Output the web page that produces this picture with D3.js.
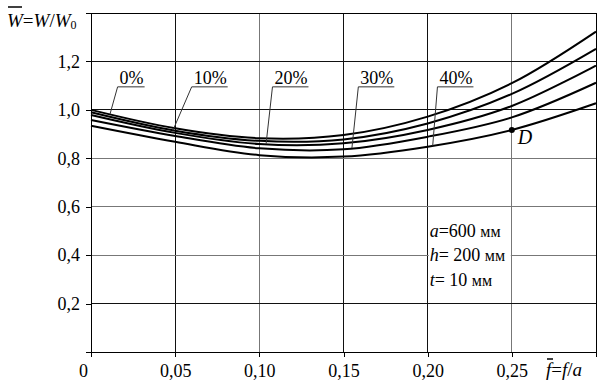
<!DOCTYPE html>
<html>
<head>
<meta charset="utf-8">
<script src="https://cdn.jsdelivr.net/npm/d3@7"></script>
<style>
  body { margin: 0; background: #fff; }
</style>
</head>
<body>
<svg id="chart" width="607" height="381"></svg>
<script>
// relative deflection f/a
const fVals = [0, 0.05, 0.10, 0.15, 0.20, 0.25, 0.30];
const seriesNames = ['0%', '10%', '20%', '30%', '40%'];
const w0 = [1.000, 0.924, 0.883, 0.896, 0.972, 1.110, 1.323];
const w10 = [0.990, 0.914, 0.872, 0.878, 0.944, 1.066, 1.252];
const w20 = [0.979, 0.905, 0.859, 0.862, 0.917, 1.016, 1.183];
const w30 = [0.958, 0.892, 0.841, 0.837, 0.889, 0.969, 1.112];
const w40 = [0.934, 0.868, 0.813, 0.807, 0.848, 0.917, 1.027];
const seriesValues = [w0, w10, w20, w30, w40];

// where each label sits (text start) and where its leader touches the curve
const labelF = [0.017, 0.061, 0.109, 0.160, 0.207];
const leaderF = [0.0113, 0.0487, 0.104, 0.155, 0.203];
const labelW = 1.107;
const underlineW = 1.095;

const xTicks = [0, 0.05, 0.10, 0.15, 0.20, 0.25, 0.30];
const xTickLabels = ['0', '0,05', '0,10', '0,15', '0,20', '0,25', ''];
const yTicks = [0, 0.2, 0.4, 0.6, 0.8, 1.0, 1.2, 1.4];
const yTickLabels = ['', '0,2', '0,4', '0,6', '0,8', '1,0', '1,2', ''];

const pointD = { f: 0.25, w: 0.917, name: 'D' };
const params = [
  { v: 'a', rest: '=600 ', unit: 'мм' },
  { v: 'h', rest: '= 200 ', unit: 'мм' },
  { v: 't', rest: '= 10 ', unit: 'мм' }
];

const FONT = '"Liberation Serif"';
const svg = d3.select('#chart');
const mLeft = 91, mRight = 596, mTop = 13, mBottom = 352;

const x = d3.scaleLinear().domain([0, 0.30]).range([mLeft, mRight]);
const y = d3.scaleLinear().domain([0, 1.4]).range([mBottom, mTop]);

// grid
const greyX = [0.10, 0.25];
const greyY = [0.4, 0.6, 0.8];
svg.append('g')
  .selectAll('line')
  .data(xTicks.slice(1, -1))
  .join('line')
  .attr('x1', d => x(d)).attr('x2', d => x(d))
  .attr('y1', mTop).attr('y2', mBottom)
  .attr('stroke', d => greyX.includes(d) ? '#777' : '#111')
  .attr('stroke-width', 1)
  .attr('shape-rendering', 'crispEdges');
svg.append('g')
  .selectAll('line')
  .data(yTicks.slice(1, -1))
  .join('line')
  .attr('x1', mLeft).attr('x2', mRight)
  .attr('y1', d => y(d)).attr('y2', d => y(d))
  .attr('stroke', d => greyY.some(g => Math.abs(g - d) < 1e-9) ? '#777' : '#111')
  .attr('stroke-width', 1)
  .attr('shape-rendering', 'crispEdges');

// frame as four lines
const frame = [
  [mLeft, mTop, mRight, mTop],
  [mRight, mTop, mRight, mBottom],
  [mLeft, mBottom, mRight, mBottom],
  [mLeft, mTop, mLeft, mBottom]
];
svg.append('g')
  .selectAll('line')
  .data(frame)
  .join('line')
  .attr('x1', d => d[0]).attr('y1', d => d[1])
  .attr('x2', d => d[2]).attr('y2', d => d[3])
  .attr('stroke', '#000').attr('stroke-width', 1)
  .attr('shape-rendering', 'crispEdges');

// axes
const xAxis = svg.append('g')
  .attr('transform', `translate(0,${mBottom})`)
  .call(d3.axisBottom(x).tickValues(xTicks).tickSize(5).tickPadding(7)
    .tickFormat((d, i) => xTickLabels[i]));
const yAxis = svg.append('g')
  .attr('transform', `translate(${mLeft},0)`)
  .call(d3.axisLeft(y).tickValues(yTicks).tickSize(5).tickPadding(6)
    .tickFormat((d, i) => yTickLabels[i]));
[xAxis, yAxis].forEach(a => {
  a.attr('font-family', FONT).attr('font-size', 18);
  a.select('.domain').remove();
  a.selectAll('line').attr('stroke', '#000').attr('shape-rendering', 'crispEdges');
  a.selectAll('text')
    .attr('font-family', FONT)
    .attr('font-size', 18)
    .attr('fill', '#000');
});
xAxis.selectAll('text').filter(d => d === 0).attr('dx', -8);

// parameter box (white background hides the grid)
const box = svg.append('g');
box.append('rect')
  .attr('x', x(0.20) + 1).attr('y', y(0.56))
  .attr('width', x(0.25) - x(0.20) - 2).attr('height', y(0.24) - y(0.56))
  .attr('fill', '#fff');
params.forEach((p, i) => {
  const t = box.append('text')
    .attr('x', x(0.20) + 2)
    .attr('y', y(0.476) + i * 24.5)
    .attr('font-family', FONT)
    .attr('font-size', 18)
    .attr('fill', '#000');
  t.append('tspan').attr('font-style', 'italic').text(p.v);
  t.append('tspan').text(p.rest);
  t.append('tspan').attr('font-size', 16).text(p.unit);
});

// curves
const line = d3.line()
  .x((d, i) => x(fVals[i]))
  .y(d => y(d))
  .curve(d3.curveCatmullRom.alpha(0.5));

seriesValues.forEach(vals => {
  svg.append('path')
    .datum(vals)
    .attr('d', line)
    .attr('fill', 'none')
    .attr('stroke', '#000')
    .attr('stroke-width', 2)
    .attr('stroke-linejoin', 'round');
});

// labels with underline and leader (no text measuring)
seriesNames.forEach((name, i) => {
  const tx = x(labelF[i]);
  svg.append('text')
    .attr('x', tx).attr('y', y(labelW))
    .attr('font-family', FONT)
    .attr('font-size', 18)
    .attr('fill', '#000')
    .text(name);
  const tw = 18 * (0.5 * (name.length - 1) + 0.833);
  const uy = y(underlineW);
  svg.append('line')
    .attr('x1', tx - 2).attr('x2', tx + tw + 1)
    .attr('y1', uy).attr('y2', uy)
    .attr('stroke', '#333').attr('stroke-width', 1);
  const onCurve = d3.scaleLinear().domain(fVals).range(seriesValues[i]);
  svg.append('line')
    .attr('x1', tx - 2).attr('y1', uy)
    .attr('x2', x(leaderF[i])).attr('y2', y(onCurve(leaderF[i])))
    .attr('stroke', '#333').attr('stroke-width', 1);
});

// point D
svg.append('circle')
  .attr('cx', x(pointD.f)).attr('cy', y(pointD.w))
  .attr('r', 3).attr('fill', '#000');
svg.append('text')
  .attr('x', x(pointD.f) + 6).attr('y', y(pointD.w) + 14)
  .attr('font-family', FONT)
  .attr('font-style', 'italic')
  .attr('font-size', 20)
  .attr('fill', '#000')
  .text(pointD.name);

// y axis title: W̄=W/W0
const yt = svg.append('text')
  .attr('x', 7).attr('y', 27)
  .attr('font-family', FONT)
  .attr('font-size', 19)
  .attr('fill', '#000');
yt.append('tspan').attr('font-style', 'italic').text('W');
yt.append('tspan').text('=');
yt.append('tspan').attr('font-style', 'italic').text('W');
yt.append('tspan').text('/');
yt.append('tspan').attr('font-style', 'italic').text('W');
yt.append('tspan').attr('dy', 2).attr('font-size', 12).text('0');
svg.append('line')
  .attr('x1', 8).attr('x2', 22)
  .attr('y1', 7).attr('y2', 7)
  .attr('stroke', '#000').attr('stroke-width', 1.5);

// x axis title: f̄=f/a
const xt = svg.append('text')
  .attr('x', 546).attr('y', 376)
  .attr('font-family', FONT)
  .attr('font-size', 19)
  .attr('fill', '#000');
xt.append('tspan').attr('font-style', 'italic').text('f');
xt.append('tspan').text('=');
xt.append('tspan').attr('font-style', 'italic').text('f');
xt.append('tspan').text('/');
xt.append('tspan').attr('font-style', 'italic').text('a');
svg.append('line')
  .attr('x1', 547).attr('x2', 553)
  .attr('y1', 359).attr('y2', 359)
  .attr('stroke', '#000').attr('stroke-width', 1.5);
</script>
</body>
</html>
